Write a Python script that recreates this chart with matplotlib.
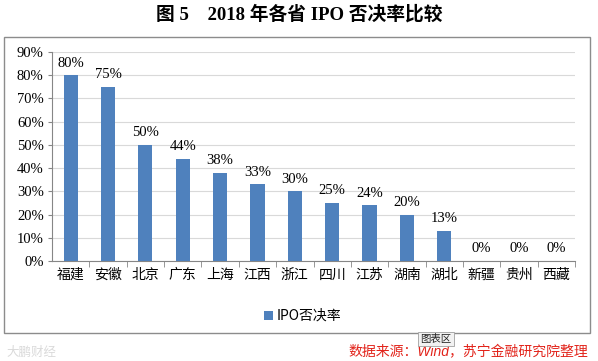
import matplotlib.pyplot as plt
from matplotlib.patches import Rectangle
from matplotlib.ticker import PercentFormatter

plt.rcParams['font.family'] = ['Noto Sans CJK SC', 'DejaVu Sans']

provinces = ["福建", "安徽", "北京", "广东", "上海", "江西", "浙江", "四川", "江苏", "湖南", "湖北", "新疆", "贵州", "西藏"]
reject_rate = [80, 75, 50, 44, 38, 33, 30, 25, 24, 20, 13, 0, 0, 0]
yticks = [0, 10, 20, 30, 40, 50, 60, 70, 80, 90]

W, H = 598, 361
fig = plt.figure(figsize=(W / 100, H / 100), dpi=100)

# outer chart frame
fig.patches.append(Rectangle((4 / W, 1 - 333 / H), 586 / W, 296 / H, transform=fig.transFigure,
                             fill=False, edgecolor="#8c8c8c", linewidth=1.0))

ax = fig.add_axes([52 / W, 1 - 261 / H, 523 / W, 209 / H])
x = range(len(provinces))
bars = ax.bar(x, reject_rate, width=0.38, color="#4F81BD", label="IPO否决率", zorder=3)

ax.set_ylim(0, 90)
ax.set_xlim(-0.5, len(provinces) - 0.5)
ax.set_yticks(yticks)
ax.yaxis.set_major_formatter(PercentFormatter(decimals=0))
ax.grid(axis="y", color="#d9d9d9", linewidth=0.8, zorder=0)
for s in ["top", "right"]:
    ax.spines[s].set_visible(False)
for s in ["left", "bottom"]:
    ax.spines[s].set_color("#868686")
ax.tick_params(axis="y", length=3, color="#868686", labelsize=10.5, pad=3)
for lab in ax.get_yticklabels():
    lab.set_fontfamily("Liberation Serif")
ax.set_xticks([i + 0.5 for i in x], minor=True)
ax.tick_params(axis="x", which="major", length=0, labelsize=10, pad=5)
ax.tick_params(axis="x", which="minor", length=4, color="#868686")
ax.set_xticks(list(x))
ax.set_xticklabels(provinces)

for b, v in zip(bars, reject_rate):
    ax.annotate(f"{v}%", (b.get_x() + b.get_width() / 2, v), xytext=(0, 4),
                textcoords="offset points", ha="center", va="bottom",
                fontsize=10.5, family="Liberation Serif")

ax.legend(loc="upper center", bbox_to_anchor=(0.48, -0.17), frameon=False,
          fontsize=10, handlelength=0.6, handleheight=0.6, handletextpad=0.3)

fig.text(0.5, 1 - 14 / H, "图 5　2018 年各省 IPO 否决率比较", ha="center", va="center",
         fontsize=13.5, fontweight="heavy", family=["Liberation Serif", "Noto Sans CJK SC"])

fig.text(588 / W, 1 - 352 / H, "数据来源：Wind，苏宁金融研究院整理", ha="right", va="center",
         fontsize=10, color="#e2231a", style="italic",
         family=["Liberation Sans", "Noto Sans CJK SC"])
fig.text(436 / W, 1 - 339 / H, "图表区", ha="center", va="center", fontsize=7.5, color="#222222",
         bbox=dict(boxstyle="square,pad=0.2", facecolor="#f2f2f2", edgecolor="#a0a0a0", linewidth=0.6))
fig.text(6 / W, 1 - 352 / H, "大鹏财经", ha="left", va="center", fontsize=9, color="#dadada")

fig.savefig("out.png", dpi=100)
